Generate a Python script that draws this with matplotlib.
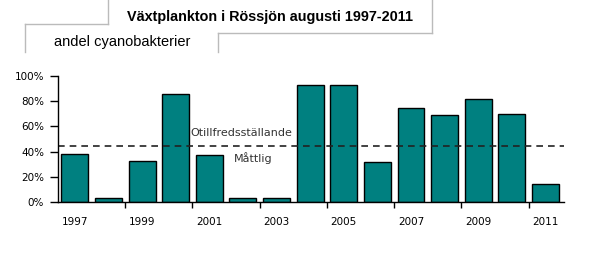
import numpy as np
import matplotlib.pyplot as plt
from matplotlib.lines import Line2D

years = list(range(1997, 2012))
andel = [38, 3, 32.5, 85.5, 37, 3, 3, 93, 93, 32, 75, 69, 81.5, 70, 14]
gräns = 44.5
year_labels = [1997, 1999, 2001, 2003, 2005, 2007, 2009, 2011]
y_ticks = [0, 20, 40, 60, 80, 100]

fig = plt.figure(figsize=(5.99, 2.56), dpi=100)
ax = fig.add_axes([58 / 599, 54 / 256, 506 / 599, 126 / 256])

ax.bar(years, andel, width=0.8, color='#008080', edgecolor='black', linewidth=1.0)
ax.axhline(gräns, color='#222222', linestyle=(0, (4, 3)), linewidth=1.2)

ax.text(2001.95, 55, 'Otillfredsställande', ha='center', va='center',
        fontsize=8, color='#333333', fontfamily='DejaVu Sans', zorder=5)
ax.text(2002.3, 35, 'Måttlig', ha='center', va='center',
        fontsize=8, color='#333333', fontfamily='DejaVu Sans', zorder=5)

ax.set_xlim(1996.5, 2011.55)
ax.set_ylim(0, 100)
ax.set_yticks(y_ticks)
ax.set_yticklabels([f'{v}%' for v in y_ticks], fontsize=7.5)
ax.set_xticks(year_labels)
ax.set_xticklabels([str(y) for y in year_labels], fontsize=7.5)
ax.set_xticks([y + 0.5 for y in range(1998, 2011, 2)], minor=True)
ax.tick_params(axis='x', which='major', length=0, pad=11)
ax.tick_params(axis='x', which='minor', length=4, direction='out', width=1)
ax.tick_params(axis='y', length=6, direction='out', width=1, pad=4)
for side in ['top', 'right']:
    ax.spines[side].set_visible(False)
for side in ['left', 'bottom']:
    ax.spines[side].set_linewidth(1)

# ram runt rubriken
gray = '#bbbbbb'
segs = [
    ([108, 108], [0, 24]),
    ([25, 108], [24, 24]),
    ([25, 25], [24, 52]),
    ([218, 432], [33, 33]),
    ([432, 432], [0, 33]),
    ([218, 218], [33, 52]),
]
for xs, ys in segs:
    fig.add_artist(Line2D([x / 599 for x in xs], [1 - y / 256 for y in ys],
                          color=gray, linewidth=1))

fig.text(270 / 599, 1 - 17 / 256, 'Växtplankton i Rössjön augusti 1997-2011',
         ha='center', va='center', fontsize=10.4, fontweight='bold',
         fontfamily='Liberation Sans')
fig.text(54 / 599, 1 - 42 / 256, 'andel cyanobakterier', ha='left', va='center',
         fontsize=10.5, fontfamily='Liberation Sans')

fig.savefig('out.png', dpi=100)
